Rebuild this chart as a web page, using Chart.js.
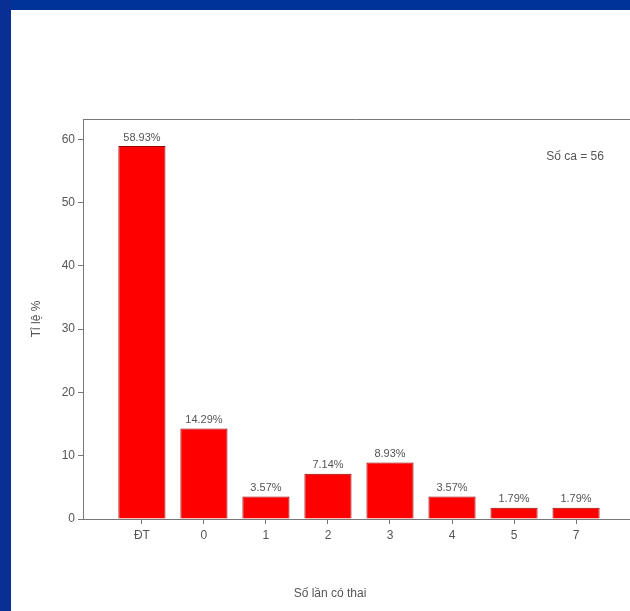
<!DOCTYPE html>
<html>
<head>
<meta charset="utf-8">
<script src="https://cdn.jsdelivr.net/npm/chart.js@4.4.1/dist/chart.umd.min.js"></script>
<style>
  html, body { margin: 0; padding: 0; background: #ffffff; }
  #wrap { position: relative; width: 630px; height: 611px; overflow: hidden; }
  #c { position: absolute; left: 0; top: 0; }
  .band-top { position: absolute; left: 0; top: 0; width: 630px; height: 10px; background: #003399; }
  .band-left { position: absolute; left: 0; top: 0; width: 11px; height: 611px; background: #0a2f94; }
</style>
</head>
<body>
<div id="wrap">
  <canvas id="c" width="630" height="611"></canvas>
  <div class="band-top"></div>
  <div class="band-left"></div>
</div>
<script>
// Số lần có thai (categories) and percentage of cases
const categories = ['ĐT', '0', '1', '2', '3', '4', '5', '7'];
const percentages = [58.93, 14.29, 3.57, 7.14, 8.93, 3.57, 1.79, 1.79];
const yTicks = [0, 10, 20, 30, 40, 50, 60];
const caseNote = 'Số ca = 56';
const xTitle = 'Số lần có thai';
const yTitle = 'Tỉ lệ %';

const axisColor = '#777777';
const textColor = '#555555';
const fontFamily = 'Arial, "Liberation Sans", sans-serif';

const points = percentages.map((v, i) => ({ x: i, y: v }));

// Value labels above bars, frame top line, x title and case note
const extras = {
  id: 'extras',
  afterDatasetsDraw(chart) {
    const ctx = chart.ctx;
    const meta = chart.getDatasetMeta(0);
    ctx.save();
    ctx.fillStyle = textColor;
    ctx.font = '11px ' + fontFamily;
    ctx.textAlign = 'center';
    ctx.textBaseline = 'bottom';
    meta.data.forEach((bar, i) => {
      ctx.fillText(percentages[i].toFixed(2) + '%', bar.x, bar.y - 3);
    });
    const a = chart.chartArea;
    ctx.strokeStyle = axisColor;
    ctx.lineWidth = 1;
    ctx.beginPath();
    ctx.moveTo(a.left, a.top + 0.5);
    ctx.lineTo(a.right, a.top + 0.5);
    ctx.stroke();
    ctx.font = '12px ' + fontFamily;
    ctx.textBaseline = 'middle';
    ctx.fillText(xTitle, 330, 594);
    ctx.fillText(caseNote, 575, 157);
    ctx.restore();
  }
};

new Chart(document.getElementById('c'), {
  type: 'bar',
  data: {
    datasets: [{
      data: points,
      backgroundColor: '#ff0000',
      borderColor: '#9a0000',
      borderWidth: 1,
      barPercentage: 0.76,
      categoryPercentage: 1.0
    }]
  },
  options: {
    responsive: false,
    animation: false,
    events: [],
    layout: { padding: { left: 25, right: 0, top: 119, bottom: 0 } },
    plugins: { legend: { display: false }, tooltip: { enabled: false } },
    scales: {
      x: {
        type: 'linear',
        min: -0.95,
        max: 7.87,
        offset: false,
        afterFit(scale) { scale.height = 92; },
        afterBuildTicks(scale) {
          scale.ticks = categories.map((_, i) => ({ value: i }));
        },
        ticks: {
          color: textColor,
          font: { size: 12, family: fontFamily },
          padding: 4,
          maxRotation: 0,
          autoSkip: false,
          callback: (v) => categories[v] ?? ''
        },
        grid: {
          offset: false,
          drawOnChartArea: false,
          drawTicks: true,
          tickLength: 5,
          color: axisColor
        },
        border: { display: true, color: axisColor, width: 1 }
      },
      y: {
        min: 0,
        max: 63.2,
        afterFit(scale) { scale.width = 58; },
        afterBuildTicks(scale) {
          scale.ticks = yTicks.map(v => ({ value: v }));
        },
        ticks: {
          color: textColor,
          font: { size: 12, family: fontFamily },
          padding: 3
        },
        grid: {
          drawOnChartArea: false,
          drawTicks: true,
          tickLength: 5,
          color: axisColor
        },
        border: { display: true, color: axisColor, width: 1 },
        title: {
          display: true,
          text: yTitle,
          color: textColor,
          font: { size: 12, family: fontFamily },
          padding: { top: 4, bottom: 4 }
        }
      }
    }
  },
  plugins: [extras]
});
</script>
</body>
</html>
